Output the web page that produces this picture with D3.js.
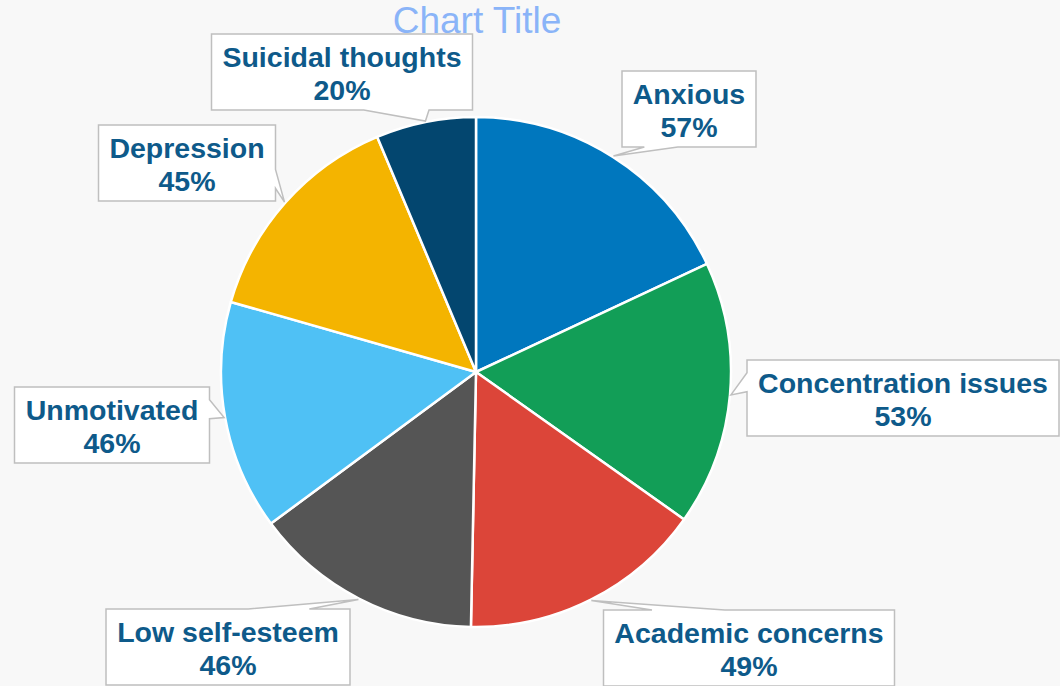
<!DOCTYPE html>
<html>
<head>
<meta charset="utf-8">
<script src="https://cdn.jsdelivr.net/npm/d3@7"></script>
<style>
  html, body { margin: 0; padding: 0; background: #f8f8f8; }
  svg { display: block; }
</style>
</head>
<body>
<svg id="chart" width="1060" height="686"></svg>
<script>
// ---- data ----
const categories = ["Anxious", "Concentration issues", "Academic concerns", "Low self-esteem", "Unmotivated", "Depression", "Suicidal thoughts"];
const values = [57, 53, 49, 46, 46, 45, 20];
const colors = ["#0077be", "#129e57", "#dc4539", "#555555", "#4fc1f5", "#f4b400", "#03466f"];
const chartTitle = "Chart Title";

// ---- layout (label box centres) ----
const labelCenters = [[689, 109], [903, 398], [749, 648], [228, 647], [112, 425], [187, 163], [342, 72]];

const W = 1060, H = 686;
const cx = 476, cy = 372, R = 255;
const svg = d3.select("#chart");

svg.append("rect").attr("width", W).attr("height", H).attr("fill", "#f8f8f8");

svg.append("text")
  .attr("x", 477).attr("y", 33)
  .attr("text-anchor", "middle")
  .attr("font-family", "Liberation Sans, Arial, sans-serif")
  .attr("font-size", 37)
  .attr("fill", "#8ab4f8")
  .text(chartTitle);

const data = categories.map((c, i) => ({ name: c, value: values[i], color: colors[i] }));
const pie = d3.pie().sort(null).value(d => d.value);
const arcs = pie(data);
const arc = d3.arc().innerRadius(0).outerRadius(R);

const g = svg.append("g").attr("transform", `translate(${cx},${cy})`);
g.selectAll("path.slice").data(arcs).enter().append("path")
  .attr("class", "slice")
  .attr("d", arc)
  .attr("fill", d => d.data.color)
  .attr("stroke", "#ffffff")
  .attr("stroke-width", 2.5)
  .attr("stroke-linejoin", "round");

// ---- callout labels ----
const fontFamily = "Liberation Sans, Arial, sans-serif";
const labelG = svg.append("g");

function calloutPath(x0, y0, w, h, tx, ty) {
  const xc = x0 + w / 2, yc = y0 + h / 2;
  const dx = tx - xc, dy = ty - yc;
  const x1 = x0 + w, y1 = y0 + h;
  if (tx >= x0 && tx <= x1 && ty >= y0 && ty <= y1) {
    return `M${x0},${y0}H${x1}V${y1}H${x0}Z`;
  }
  const horiz = Math.abs(dx) / w > Math.abs(dy) / h;
  let p = `M${x0},${y0}`;
  if (!horiz && dy < 0) {
    const a = dx > 0 ? x0 + w * 7 / 12 : x0 + w * 2 / 12;
    const b = dx > 0 ? x0 + w * 10 / 12 : x0 + w * 5 / 12;
    p += `L${a},${y0}L${tx},${ty}L${b},${y0}`;
  }
  p += `L${x1},${y0}`;
  if (horiz && dx > 0) {
    const a = dy > 0 ? y0 + h * 7 / 12 : y0 + h * 2 / 12;
    const b = dy > 0 ? y0 + h * 10 / 12 : y0 + h * 5 / 12;
    p += `L${x1},${a}L${tx},${ty}L${x1},${b}`;
  }
  p += `L${x1},${y1}`;
  if (!horiz && dy > 0) {
    const a = dx > 0 ? x0 + w * 10 / 12 : x0 + w * 5 / 12;
    const b = dx > 0 ? x0 + w * 7 / 12 : x0 + w * 2 / 12;
    p += `L${a},${y1}L${tx},${ty}L${b},${y1}`;
  }
  p += `L${x0},${y1}`;
  if (horiz && dx < 0) {
    const a = dy > 0 ? y0 + h * 10 / 12 : y0 + h * 5 / 12;
    const b = dy > 0 ? y0 + h * 7 / 12 : y0 + h * 2 / 12;
    p += `L${x0},${a}L${tx},${ty}L${x0},${b}`;
  }
  p += "Z";
  return p;
}

arcs.forEach((a, i) => {
  const [bx, by] = labelCenters[i];
  const grp = labelG.append("g");
  const path = grp.append("path");
  const t1 = grp.append("text")
    .attr("x", bx).attr("text-anchor", "middle")
    .attr("font-family", fontFamily).attr("font-weight", "bold")
    .attr("font-size", 28.5).attr("fill", "#0e5a8a")
    .text(a.data.name);
  const t2 = grp.append("text")
    .attr("x", bx).attr("text-anchor", "middle")
    .attr("font-family", fontFamily).attr("font-weight", "bold")
    .attr("font-size", 28.5).attr("fill", "#0e5a8a")
    .text(a.data.value + "%");
  const tw = Math.max(t1.node().getComputedTextLength(), t2.node().getComputedTextLength());
  const w = Math.round(tw + 22), h = 76;
  const x0 = bx - w / 2, y0 = by - h / 2;
  t1.attr("y", y0 + 33);
  t2.attr("y", y0 + 66);
  const mid = (a.startAngle + a.endAngle) / 2;
  const tx = cx + (R + 1) * Math.sin(mid);
  const ty = cy - (R + 1) * Math.cos(mid);
  path.attr("d", calloutPath(x0, y0, w, h, tx, ty))
    .attr("fill", "#ffffff")
    .attr("stroke", "#bfbfbf")
    .attr("stroke-width", 1.5)
    .attr("stroke-linejoin", "miter");
});
</script>
</body>
</html>
